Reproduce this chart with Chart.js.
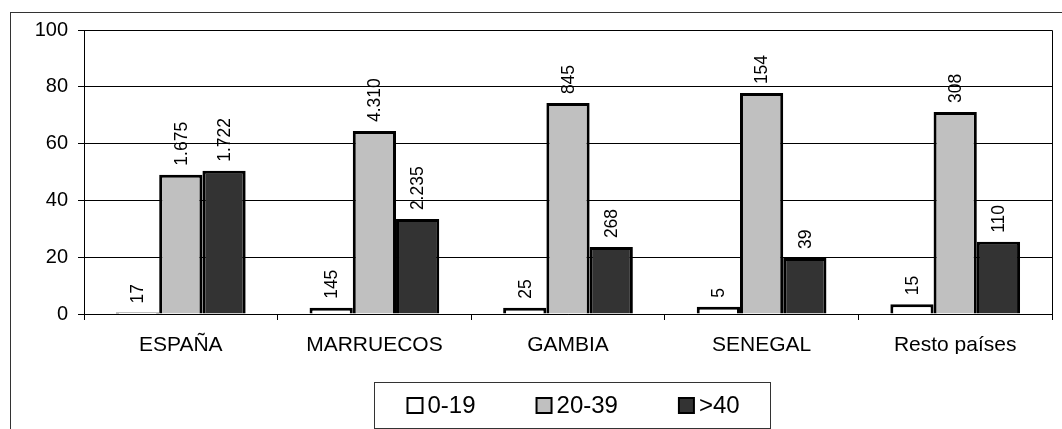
<!DOCTYPE html>
<html>
<head>
<meta charset="utf-8">
<script src="https://cdn.jsdelivr.net/npm/chart.js@4/dist/chart.umd.min.js"></script>
<style>
  html, body { margin: 0; padding: 0; background: #fff; }
  #wrap { position: relative; width: 1062px; height: 429px; }
</style>
</head>
<body>
<div id="wrap"><canvas id="c" width="1062" height="429"></canvas></div>
<script>
// Countries of origin
const categories = ['ESPAÑA', 'MARRUECOS', 'GAMBIA', 'SENEGAL', 'Resto países'];
// Number of people per age group
const age0to19  = [17, 145, 25, 5, 15];
const age20to39 = [1675, 4310, 845, 154, 308];
const age40plus = [1722, 2235, 268, 39, 110];
const seriesNames = ['0-19', '20-39', '>40'];
const yTicks = [0, 20, 40, 60, 80, 100];

const FONT = '"Liberation Sans", Arial, sans-serif';
const colors = ['#ffffff', '#c0c0c0', '#333333'];
const counts = [age0to19, age20to39, age40plus];

// Bar heights are each group's share (%) of the country total
const totals = categories.map((_, i) => counts.reduce((s, arr) => s + arr[i], 0));
const shares = counts.map(arr => arr.map((v, i) => v / totals[i] * 100));

function fmt(n) {
  return String(n).replace(/\B(?=(\d{3})+(?!\d))/g, '.');
}

const frame = {
  id: 'frame',
  beforeDraw(chart) {
    const ctx = chart.ctx;
    ctx.save();
    ctx.strokeStyle = '#333';
    ctx.lineWidth = 1;
    ctx.strokeRect(10.5, 12.5, 1200, 600);
    ctx.restore();
  },
  afterDatasetsDraw(chart) {
    const ctx = chart.ctx;
    const a = chart.chartArea;
    ctx.save();
    // plot area box (top and right edges)
    ctx.strokeStyle = '#000';
    ctx.lineWidth = 1;
    ctx.beginPath();
    ctx.moveTo(a.left, a.top + 0.5);
    ctx.lineTo(a.right + 0.5, a.top + 0.5);
    ctx.lineTo(a.right + 0.5, a.bottom + 6);
    ctx.stroke();

    // rotated count labels above each bar
    ctx.fillStyle = '#000';
    ctx.font = '17.5px ' + FONT;
    ctx.textAlign = 'left';
    ctx.textBaseline = 'middle';
    chart.data.datasets.forEach((ds, di) => {
      const meta = chart.getDatasetMeta(di);
      meta.data.forEach((bar, i) => {
        ctx.save();
        ctx.translate(bar.x, bar.y - 9);
        ctx.rotate(-Math.PI / 2);
        ctx.fillText(fmt(counts[di][i]), 0, 1);
        ctx.restore();
      });
    });

    // legend with frame
    ctx.font = '24px ' + FONT;
    const sq = 15, gapTxt = 5, gapItem = 61, padL = 33, padR = 31;
    const widths = seriesNames.map(s => sq + gapTxt + ctx.measureText(s).width);
    const inner = widths.reduce((s, w) => s + w, 0) + gapItem * (widths.length - 1);
    const boxW = Math.round(inner + padL + padR);
    const bx = 374.5;
    const by = 382.5, bh = 46;
    ctx.strokeStyle = '#333';
    ctx.lineWidth = 1;
    ctx.strokeRect(bx, by, boxW, bh);
    let x = bx + padL;
    const cy = by + bh / 2;
    seriesNames.forEach((s, k) => {
      ctx.fillStyle = colors[k];
      ctx.fillRect(x, cy - sq / 2, sq, sq);
      ctx.strokeStyle = '#000';
      ctx.lineWidth = 2;
      ctx.strokeRect(x, cy - sq / 2, sq, sq);
      ctx.fillStyle = '#000';
      ctx.textAlign = 'left';
      ctx.textBaseline = 'middle';
      ctx.fillText(s, x + sq + gapTxt, cy + 1);
      x += widths[k] + gapItem;
    });
    ctx.restore();
  }
};

new Chart(document.getElementById('c'), {
  type: 'bar',
  data: {
    labels: categories,
    datasets: seriesNames.map((name, k) => ({
      label: name,
      data: shares[k],
      backgroundColor: colors[k],
      borderColor: '#000',
      borderWidth: 3,
      borderSkipped: 'bottom',
      barPercentage: 1,
      categoryPercentage: 0.67
    }))
  },
  options: {
    responsive: false,
    animation: false,
    layout: { padding: { top: 30, right: 10, bottom: 75, left: 0 } },
    plugins: { legend: { display: false }, tooltip: { enabled: false } },
    scales: {
      x: {
        afterFit(s) { s.height = 40; },
        grid: { display: true, drawOnChartArea: false, offset: true, color: '#000', tickLength: 6 },
        border: { display: true, color: '#000', width: 1 },
        ticks: { color: '#000', font: { family: FONT, size: 21 }, padding: 13, maxRotation: 0 }
      },
      y: {
        min: 0, max: 100,
        afterFit(s) { s.width = 84; },
        afterBuildTicks(s) { s.ticks = yTicks.map(v => ({ value: v })); },
        grid: { color: '#000', tickLength: 6 },
        border: { display: true, color: '#000', width: 1 },
        ticks: { color: '#000', font: { family: FONT, size: 20 }, padding: 10 }
      }
    }
  },
  plugins: [frame]
});
</script>
</body>
</html>
